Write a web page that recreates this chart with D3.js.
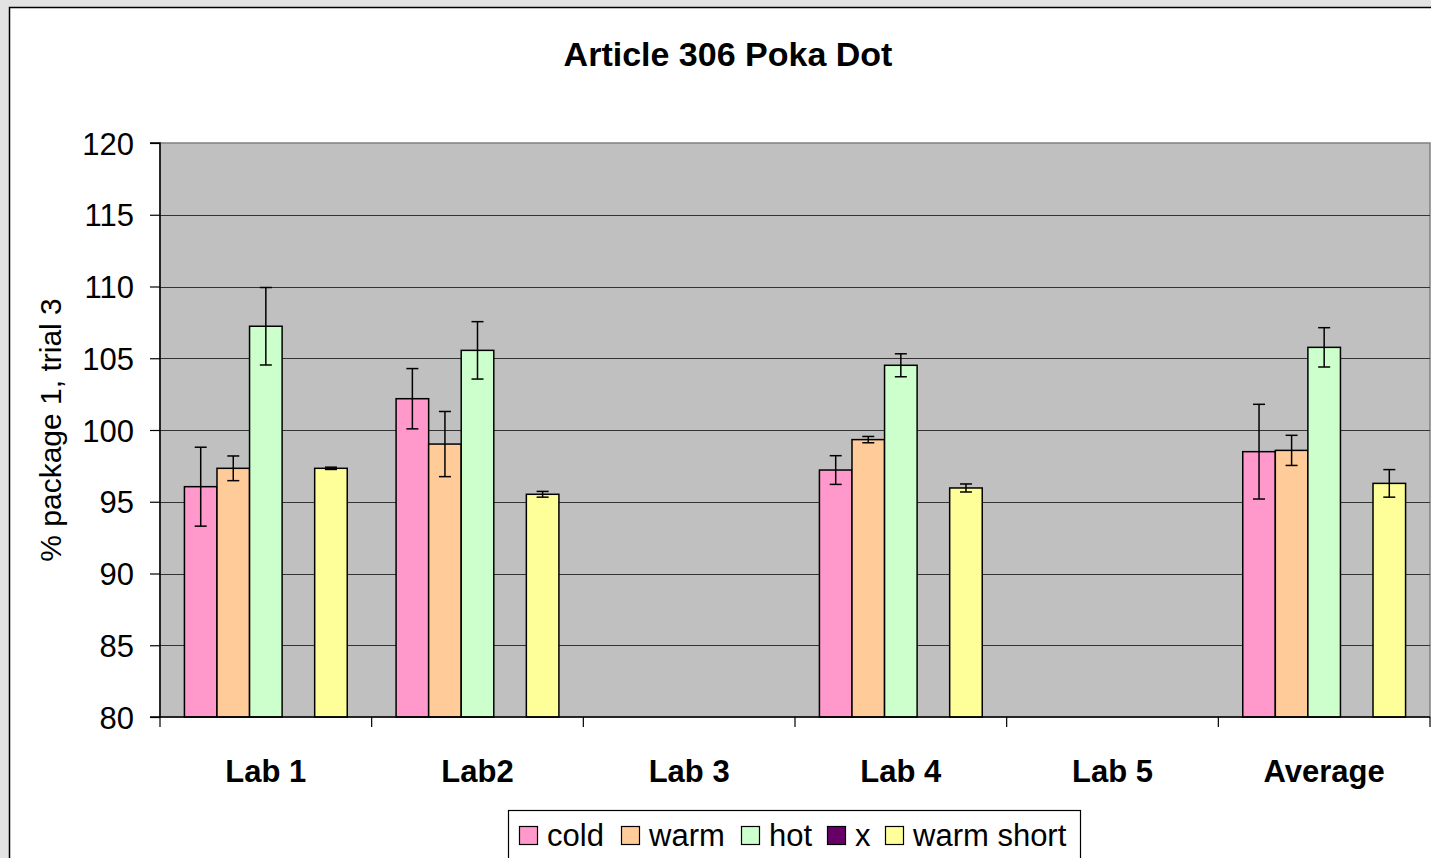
<!DOCTYPE html>
<html><head><meta charset="utf-8">
<script src="https://cdn.jsdelivr.net/npm/d3@7"></script>
<style>
html,body{margin:0;padding:0;background:#e3e3e3;overflow:hidden}
svg{display:block;font-family:"Liberation Sans",Arial,sans-serif}
</style></head>
<body>
<svg id="c" width="1431" height="858"></svg>
<script>
const categories = ["Lab 1","Lab2","Lab 3","Lab 4","Lab 5","Average"];
const seriesNames = ["cold","warm","hot","x","warm short"];
const seriesColors = ["#FF99CC","#FFCC99","#CCFFCC","#660066","#FFFF99"];
const cold      = [96.05, 102.18, null, 97.21, null, 98.49];
const warm      = [97.33, 99.02, null, 99.33, null, 98.58];
const hot       = [107.23, 105.55, null, 104.51, null, 105.76];
const xSeries   = [null, null, null, null, null, null];
const warmShort = [97.33, 95.52, null, 95.96, null, 96.28];
const coldErr      = [2.75, 2.10, null, 1.00, null, 3.30];
const warmErr      = [0.86, 2.27, null, 0.22, null, 1.05];
const hotErr       = [2.70, 2.00, null, 0.80, null, 1.37];
const xErr         = [null, null, null, null, null, null];
const warmShortErr = [0.08, 0.20, null, 0.28, null, 0.96];
const yTicks = [80,85,90,95,100,105,110,115,120];
const title = "Article 306 Poka Dot";
const yLabel = "% package 1, trial 3";

const values = [cold, warm, hot, xSeries, warmShort];
const errs = [coldErr, warmErr, hotErr, xErr, warmShortErr];
const FONT = "Liberation Sans, Arial, sans-serif";

const svg = d3.select("#c");
svg.append("rect").attr("x",9.5).attr("y",7.5).attr("width",1440).attr("height",870)
  .attr("fill","#fff").attr("stroke","#000").attr("stroke-width",1.5);

const L=160, R=1430, T=143, B=717;
const x0 = d3.scaleBand().domain(categories).range([L,R]).paddingInner(0).paddingOuter(0);
const x1 = d3.scaleBand().domain(seriesNames).range([0,x0.bandwidth()]).paddingInner(0).paddingOuter(0.75);
const y = d3.scaleLinear().domain([80,120]).range([B,T]);

svg.append("rect").attr("x",L).attr("y",T).attr("width",R-L).attr("height",B-T)
  .attr("fill","#C0C0C0").attr("stroke","#808080").attr("stroke-width",1.5);

svg.append("g").selectAll("line").data(yTicks.filter(t=>t>80 && t<120)).join("line")
  .attr("x1",L).attr("x2",R).attr("y1",d=>Math.round(y(d))+0.5).attr("y2",d=>Math.round(y(d))+0.5)
  .attr("stroke","#333").attr("stroke-width",1.2);

const bars = [];
values.forEach((arr,si)=>arr.forEach((v,ci)=>{ if(v!=null) bars.push({si,ci,v,e:errs[si][ci]}); }));
svg.append("g").selectAll("rect").data(bars).join("rect")
  .attr("x",d=>x0(categories[d.ci])+x1(seriesNames[d.si]))
  .attr("y",d=>y(d.v)).attr("width",x1.bandwidth()).attr("height",d=>B-y(d.v))
  .attr("fill",d=>seriesColors[d.si]).attr("stroke","#000").attr("stroke-width",1.5);

const eg = svg.append("g").attr("stroke","#000").attr("stroke-width",1.5);
bars.filter(d=>d.e!=null).forEach(d=>{
  const cx = x0(categories[d.ci])+x1(seriesNames[d.si])+x1.bandwidth()/2;
  const yt=y(d.v+d.e), yb=y(d.v-d.e);
  eg.append("line").attr("x1",cx).attr("x2",cx).attr("y1",yt).attr("y2",yb);
  eg.append("line").attr("x1",cx-6).attr("x2",cx+6).attr("y1",yt).attr("y2",yt);
  eg.append("line").attr("x1",cx-6).attr("x2",cx+6).attr("y1",yb).attr("y2",yb);
});

const ya = svg.append("g").attr("transform",`translate(${L},0)`)
  .call(d3.axisLeft(y).tickValues(yTicks).tickSize(10).tickPadding(16).tickFormat(d3.format("d")));
ya.attr("font-size",null).attr("font-family",null);
ya.select(".domain").attr("stroke","#000").attr("stroke-width",1.5).attr("d",`M-10,${B}H0V${T}H-10`);
ya.selectAll(".tick line").attr("stroke","#000").attr("stroke-width",1.2);
ya.selectAll(".tick text").style("font-size","31px").attr("fill","#000").style("font-family",FONT).attr("dy","0.36em");

const xa = svg.append("g").attr("transform",`translate(0,${B})`)
  .call(d3.axisBottom(x0).tickSize(0).tickPadding(0));
xa.attr("font-size",null).attr("font-family",null);
xa.select(".domain").attr("stroke","#000").attr("stroke-width",1.5).attr("d",`M${L},0H${R}`);
xa.selectAll(".tick text").attr("y",65).attr("dy",null).style("font-size","31px").style("font-weight","bold")
  .attr("fill","#000").style("font-family",FONT);
const bounds = categories.map(c=>x0(c)).concat([R]);
xa.append("g").selectAll("line").data(bounds).join("line")
  .attr("x1",d=>d).attr("x2",d=>d).attr("y1",0).attr("y2",10).attr("stroke","#000").attr("stroke-width",1.2);

svg.append("text").attr("x",728).attr("y",66).attr("text-anchor","middle")
  .style("font-size","34px").style("font-weight","bold").text(title);
svg.append("text").attr("transform",`translate(61,430) rotate(-90)`).attr("text-anchor","middle")
  .style("font-size","30px").text(yLabel);

const lg = svg.append("g");
lg.append("rect").attr("x",508.5).attr("y",810.5).attr("width",572).attr("height",60)
  .attr("fill","#fff").attr("stroke","#000").attr("stroke-width",1.2);
const legX = [519,621,741,827,885];
seriesNames.forEach((n,i)=>{
  lg.append("rect").attr("x",legX[i]+0.5).attr("y",826.5).attr("width",18).attr("height",18)
    .attr("fill",seriesColors[i]).attr("stroke","#000").attr("stroke-width",1.2);
  lg.append("text").attr("x",legX[i]+28).attr("y",846).style("font-size","31px").text(n);
});
</script>
</body></html>
